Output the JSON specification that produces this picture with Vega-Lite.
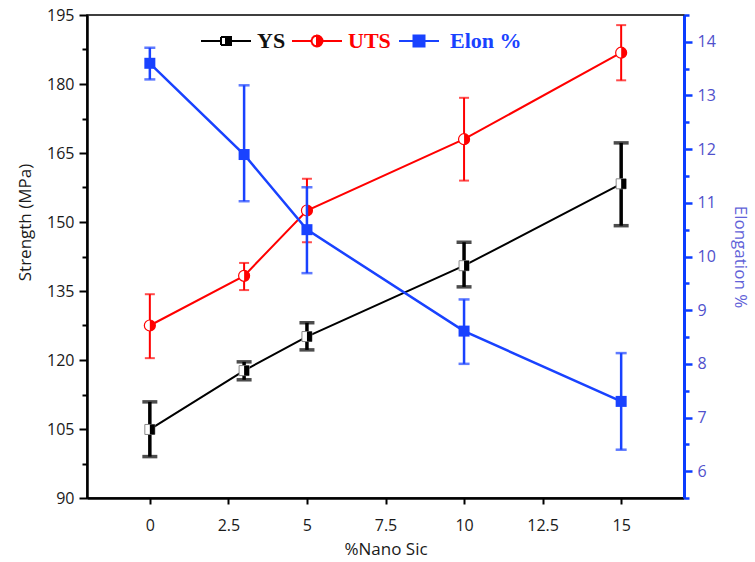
{
  "$schema": "https://vega.github.io/schema/vega-lite/v6.json",
  "width": 597,
  "height": 483,
  "autosize": {"type": "none"},
  "padding": {"left": 87, "top": 15, "right": 71, "bottom": 64},
  "background": "white",
  "config": {
    "view": {"stroke": "#000000", "strokeWidth": 1.5},
    "axis": {"grid": false, "labelFont": "Open Sans", "titleFont": "Open Sans", "titleFontWeight": "normal"},
    "legend": {
      "orient": "none", "legendX": 113, "legendY": 0, "direction": "horizontal",
      "symbolSize": 2500, "symbolStrokeWidth": 2,
      "labelFont": "Liberation Serif", "labelFontSize": 22, "labelFontWeight": "bold",
      "labelOffset": 5, "columnPadding": 2, "padding": 0, "labelLimit": 0
    }
  },
  "datasets": {
    "pts": [
      {"x": 0, "series": "YS", "value": 104.9, "lo": 99.0, "hi": 110.9},
      {"x": 3, "series": "YS", "value": 117.7, "lo": 115.7, "hi": 119.6},
      {"x": 5, "series": "YS", "value": 125.1, "lo": 122.2, "hi": 128.1},
      {"x": 10, "series": "YS", "value": 140.5, "lo": 135.9, "hi": 145.6},
      {"x": 15, "series": "YS", "value": 158.3, "lo": 149.2, "hi": 167.2},
      {"x": 0, "series": "UTS", "value": 127.5, "lo": 120.4, "hi": 134.3},
      {"x": 3, "series": "UTS", "value": 138.3, "lo": 135.2, "hi": 141.1},
      {"x": 5, "series": "UTS", "value": 152.5, "lo": 145.6, "hi": 159.4},
      {"x": 10, "series": "UTS", "value": 168.0, "lo": 159.0, "hi": 177.0},
      {"x": 15, "series": "UTS", "value": 186.8, "lo": 180.8, "hi": 192.8},
      {"x": 0, "series": "Elon %", "value": 13.6, "lo": 13.3, "hi": 13.89},
      {"x": 3, "series": "Elon %", "value": 11.9, "lo": 11.03, "hi": 13.19},
      {"x": 5, "series": "Elon %", "value": 10.5, "lo": 9.69, "hi": 11.29},
      {"x": 10, "series": "Elon %", "value": 8.61, "lo": 8.0, "hi": 9.2},
      {"x": 15, "series": "Elon %", "value": 7.3, "lo": 6.4, "hi": 8.2}
    ]
  },
  "data": {"name": "pts"},
  "encoding": {
    "x": {
      "field": "x", "type": "quantitative",
      "scale": {"domain": [-2, 17], "nice": false, "zero": false},
      "axis": {
        "values": [0, 2.5, 5, 7.5, 10, 12.5, 15], "labelExpr": "'' + datum.value", "title": "%Nano Sic",
        "tickSize": 6, "tickWidth": 2, "tickColor": "#000000", "domainColor": "#000000", "domainWidth": 2.5,
        "labelFontSize": 16, "labelColor": "#1a1a1a", "labelPadding": 13,
        "titleFontSize": 17, "titleColor": "#1a1a1a", "titlePadding": 8
      }
    }
  },
  "layer": [
    {
      "transform": [{"filter": "datum.series !== 'Elon %'"}],
      "encoding": {
        "y": {
          "field": "value", "type": "quantitative",
          "scale": {"domain": [90, 195], "nice": false, "zero": false},
          "axis": {
            "orient": "left", "title": "Strength (MPa)",
            "values": [90, 97.5, 105, 112.5, 120, 127.5, 135, 142.5, 150, 157.5, 165, 172.5, 180, 187.5, 195],
            "labelExpr": "datum.value % 15 === 0 ? '' + datum.value : ''",
            "tickSize": {"condition": {"test": "datum.value % 15 !== 0", "value": 5}, "value": 8},
            "tickWidth": 2, "tickColor": "#000000", "domainColor": "#000000", "domainWidth": 2.5,
            "labelFontSize": 16, "labelColor": "#1a1a1a", "labelPadding": 5,
            "titleFontSize": 17, "titleColor": "#1a1a1a", "titlePadding": 12, "titleY": 207
          }
        }
      },
      "layer": [
        {
          "mark": {"type": "line", "strokeWidth": 2},
          "encoding": {
            "color": {
              "field": "series", "type": "nominal",
              "scale": {"domain": ["YS", "UTS", "Elon %"], "range": ["#000000", "#ff0000", "#1942ff"]},
              "legend": {
                "title": null,
                "encoding": {
                  "symbols": {
                    "shape": {
                      "condition": [
                        {"test": "datum.value === 'YS'", "value": "M-1,0H-0.2M0.2,0H1M0,-0.16H-0.2M-0.2,-0.16V0.16M-0.2,0.16H0M0,-0.16H0.2V0.16H0Z"},
                        {"test": "datum.value === 'UTS'", "value": "M-1,0H-0.22M0.22,0H1M0,-0.22L-0.084,-0.203M-0.084,-0.203L-0.156,-0.156M-0.156,-0.156L-0.203,-0.084M-0.203,-0.084L-0.22,0M-0.22,0L-0.203,0.084M-0.203,0.084L-0.156,0.156M-0.156,0.156L-0.084,0.203M-0.084,0.203L0,0.22M0,-0.22A0.22,0.22 0 0 1 0,0.22Z"}
                      ],
                      "value": "M-0.8,0H-0.22M0.22,0H0.8M-0.22,-0.22H0.22V0.22H-0.22Z"
                    },
                    "fill": {
                      "condition": [
                        {"test": "datum.value === 'YS'", "value": "#000000"},
                        {"test": "datum.value === 'UTS'", "value": "#ff0000"}
                      ],
                      "value": "#1942ff"
                    },
                    "strokeWidth": {"value": 2},
                    "opacity": {"value": 1}
                  },
                  "labels": {
                    "fill": {
                      "condition": [
                        {"test": "datum.value === 'YS'", "value": "#111111"},
                        {"test": "datum.value === 'UTS'", "value": "#ff0000"}
                      ],
                      "value": "#1942ff"
                    }
                  }
                }
              }
            }
          }
        },
        {
          "mark": {"type": "rule"},
          "encoding": {
            "y": {"field": "lo", "type": "quantitative"},
            "y2": {"field": "hi"},
            "color": {"field": "series", "type": "nominal"},
            "strokeWidth": {"field": "series", "type": "nominal", "scale": {"domain": ["YS", "UTS"], "range": [3.5, 2]}, "legend": null}
          }
        },
        {
          "transform": [{"filter": "datum.series === 'YS'"}, {"fold": ["lo", "hi"], "as": ["end", "cap"]}],
          "mark": {"type": "tick", "orient": "horizontal", "size": 15, "thickness": 3.5, "color": "#000000"},
          "encoding": {"y": {"field": "cap", "type": "quantitative"}}
        },
        {
          "transform": [{"filter": "datum.series === 'UTS'"}, {"fold": ["lo", "hi"], "as": ["end", "cap"]}],
          "mark": {"type": "tick", "orient": "horizontal", "size": 10, "thickness": 2, "color": "#ff0000"},
          "encoding": {"y": {"field": "cap", "type": "quantitative"}}
        },
        {
          "transform": [{"filter": "datum.series === 'YS'"}],
          "mark": {"type": "point", "shape": "square", "size": 100, "filled": true, "fill": "#ffffff", "stroke": "#8a8a8a", "strokeWidth": 1, "opacity": 1}
        },
        {
          "transform": [{"filter": "datum.series === 'YS'"}],
          "mark": {"type": "point", "shape": "M0,-1H1V1H0Z", "size": 100, "filled": true, "fill": "#000000", "strokeWidth": 0, "opacity": 1}
        },
        {
          "transform": [{"filter": "datum.series === 'UTS'"}],
          "mark": {"type": "point", "shape": "circle", "size": 121, "filled": true, "fill": "#ffffff", "stroke": "#ff0000", "strokeWidth": 1.2, "opacity": 1}
        },
        {
          "transform": [{"filter": "datum.series === 'UTS'"}],
          "mark": {"type": "point", "shape": "M0,-1A1,1 0 0 1 0,1Z", "size": 121, "filled": true, "fill": "#ff0000", "strokeWidth": 0, "opacity": 1}
        }
      ]
    },
    {
      "transform": [{"filter": "datum.series === 'Elon %'"}],
      "encoding": {
        "y": {
          "field": "value", "type": "quantitative",
          "scale": {"domain": [5.5, 14.5], "nice": false, "zero": false},
          "axis": {
            "orient": "right", "title": "Elongation %",
            "values": [5.5, 6, 6.5, 7, 7.5, 8, 8.5, 9, 9.5, 10, 10.5, 11, 11.5, 12, 12.5, 13, 13.5, 14, 14.5],
            "labelExpr": "datum.value % 1 === 0 ? '' + datum.value : ''",
            "tickSize": {"condition": {"test": "datum.value % 1 !== 0", "value": 5}, "value": 8},
            "tickWidth": 2.5, "tickColor": "#0a3cff", "domainColor": "#0a3cff", "domainWidth": 3,
            "labelFontSize": 16, "labelColor": "#5050cc", "labelPadding": 5,
            "titleFontSize": 17, "titleColor": "#6262d8", "titlePadding": 15
          }
        }
      },
      "layer": [
        {"mark": {"type": "line", "strokeWidth": 2.5, "color": "#1942ff"}},
        {
          "mark": {"type": "rule", "strokeWidth": 2.5, "color": "#1942ff"},
          "encoding": {"y": {"field": "lo", "type": "quantitative"}, "y2": {"field": "hi"}}
        },
        {
          "transform": [{"fold": ["lo", "hi"], "as": ["end", "cap"]}],
          "mark": {"type": "tick", "orient": "horizontal", "size": 11, "thickness": 2.5, "color": "#1942ff"},
          "encoding": {"y": {"field": "cap", "type": "quantitative"}}
        },
        {
          "mark": {"type": "point", "shape": "square", "size": 121, "filled": true, "color": "#1942ff", "opacity": 1}
        }
      ]
    }
  ],
  "resolve": {"scale": {"y": "independent"}}
}
